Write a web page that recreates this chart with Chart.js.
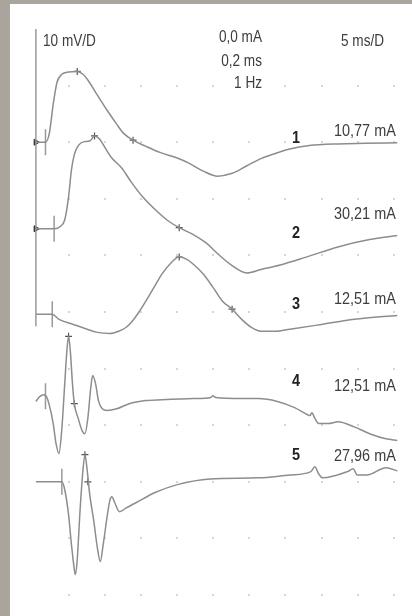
<!DOCTYPE html>
<html>
<head>
<meta charset="utf-8">
<script src="https://cdn.jsdelivr.net/npm/chart.js@4.4.0/dist/chart.umd.min.js"></script>
<style>
  html, body { margin: 0; padding: 0; background: #a9a59d; }
  #panel { position: absolute; left: 10px; top: 4px; width: 402px; height: 612px; background: #fff; }
</style>
</head>
<body>
<div id="panel"><canvas id="emg" width="402" height="612"></canvas></div>
<script>
// Escalas del registro: 5 ms/D en x, 10 mV/D en y
const gridMs = [5, 10, 15, 20, 25, 30, 35, 40, 45, 50];
const gridMv = [-10, -20, -30, -40, -50, -60, -70, -80, -90, -100];

// Línea base de cada trazo (mV, 0 = borde superior)
const traceBase = [-20, -35.3, -50.4, -65.3, -80];

// Trazo 1
const t1 = [0.4, 1.73, 2.27, 2.8, 3.33, 4.0, 4.93, 6.13, 6.93, 7.6, 8.93, 10.27, 11.6, 12.53, 13.87, 15.6, 17.6, 20.0, 21.6, 23.6, 25.6, 27.6, 29.6, 31.6, 33.6, 35.6, 38.3, 42.3, 46.0, 50.53];
const a1 = [0, 0, 1.6, 6.7, 10.6, 12.0, 12.4, 12.5, 12.0, 11.0, 8.3, 5.65, 3.2, 1.6, 0.35, -0.7, -1.8, -2.8, -3.7, -5.1, -6.0, -5.5, -4.2, -2.9, -2.0, -1.2, -0.6, -0.3, -0.2, -0.1];
// Trazo 2
const t2 = [0.4, 2.93, 3.87, 4.4, 4.93, 5.33, 5.73, 6.27, 7.07, 7.87, 8.53, 9.2, 10.0, 10.93, 12.27, 13.6, 15.2, 16.93, 18.53, 20.27, 22.27, 24.0, 25.6, 27.6, 29.6, 31.6, 34.27, 37.87, 42.27, 46.67, 50.53];
const a2 = [0, 0, 0.5, 1.6, 5.65, 10.4, 13.1, 14.7, 15.4, 15.5, 16.4, 15.9, 14.3, 12.5, 10.8, 8.3, 5.65, 3.4, 1.6, 0.2, -1.06, -2.5, -4.4, -6.5, -7.8, -7.2, -6.4, -5.0, -3.2, -1.9, -1.2];
// Trazo 3
const t3 = [0.4, 2.67, 3.6, 5.6, 7.2, 8.93, 10.67, 11.87, 12.93, 13.87, 14.67, 15.87, 16.93, 17.87, 18.93, 20.27, 21.33, 22.27, 23.6, 24.93, 26.27, 27.6, 28.93, 30.27, 31.6, 33.6, 35.6, 40.0, 44.53, 50.53];
const a3 = [0, 0, -0.9, -1.8, -2.5, -3.2, -3.4, -3.0, -2.3, -1.06, 0.35, 2.8, 5.1, 7.1, 8.8, 10.1, 9.7, 8.8, 7.1, 4.8, 2.3, 0.9, -0.9, -2.3, -3.0, -3.0, -2.65, -1.8, -0.9, -0.2];
// Trazo 4
const t4 = [0.4, 0.93, 1.47, 1.87, 2.27, 2.8, 3.2, 3.6, 4.0, 4.4, 4.67, 4.93, 5.2, 5.47, 5.73, 6.27, 6.8, 7.2, 7.6, 8.0, 8.27, 8.67, 9.07, 9.6, 10.27, 11.6, 13.33, 15.6, 17.87, 22.27, 24.67, 24.93, 25.33, 28.93, 31.2, 33.87, 36.27, 38.0, 38.4, 38.67, 39.07, 39.6, 40.93, 42.27, 44.53, 46.67, 48.93, 50.53];
const a4 = [-0.5, 0.35, 0.7, 0.35, -1.2, -4.4, -8.0, -9.7, -5.3, 2.65, 8.0, 11.0, 8.0, 2.65, -0.9, -3.5, -5.65, -6.2, -3.5, 1.8, 4.1, 2.65, -0.35, -1.8, -2.1, -1.8, -0.9, -0.35, -0.2, 0, 0.2, 0.5, 0.2, 0, 0, -0.5, -1.6, -2.8, -3.0, -2.5, -3.5, -4.4, -4.4, -4.1, -5.0, -6.2, -7.1, -7.4];
// Trazo 5
const t5 = [0.4, 4.0, 4.4, 4.93, 5.33, 5.73, 5.87, 6.13, 6.53, 6.93, 7.2, 7.47, 7.87, 8.4, 8.93, 9.33, 9.73, 10.27, 10.67, 10.93, 11.33, 12.0, 12.93, 14.27, 16.93, 20.0, 24.53, 31.2, 35.6, 38.53, 39.07, 39.6, 40.13, 43.6, 44.4, 44.93, 46.27, 48.93, 50.53];
const a5 = [0, 0, -1.4, -5.8, -11.1, -15.5, -16.4, -13.8, -4.9, 2.1, 4.8, 2.5, -2.3, -6.7, -11.7, -14.1, -11.1, -6.2, -3.2, -2.65, -3.7, -5.3, -4.6, -3.7, -1.9, -0.5, 0.5, 0.7, 1.2, 1.8, 2.65, 1.4, 0.7, 1.8, 2.3, 1.2, 1.2, 2.5, 1.9];

const traceT = [t1, t2, t3, t4, t5];
const traceA = [a1, a2, a3, a4, a5];

// Marcas de latencia (+) sobre cada trazo
const plusT = [[6.13, 13.87], [8.53, 20.27], [20.27, 27.6], [4.93, 5.73], [7.2, 7.6]];
const plusA = [[12.5, 0.35], [16.4, 0.2], [10.1, 0.9], [11.0, -0.9], [4.8, 0]];
// Marca vertical del estímulo
const stimT = [1.73, 2.93, 2.67, 1.73, 4.0];
const stimA = [0, 0, 0, 0.4, 0];
// Flechas en el eje izquierdo (trazos 1 y 2)
const arrowT = [0.4, 0.4];
const arrowY = [traceBase[0], traceBase[1]];
// Eje vertical izquierdo
const axisT = [0.4, 0.4];
const axisY = [0.2, -52.5];

// Textos
const headerLeft = "10 mV/D";
const headerMid = ["0,0 mA", "0,2 ms", "1 Hz"];
const headerRight = "5 ms/D";
const traceNums = ["1", "2", "3", "4", "5"];
const traceCurrents = ["10,77 mA", "30,21 mA", "12,51 mA", "12,51 mA", "27,96 mA"];

const traceColor = "#8d8d8d";
const markColor = "#555";
const textColor = "#3e3e3e";

const datasets = [];
datasets.push({
  data: axisT.map((t, i) => ({ x: t, y: axisY[i] })),
  borderColor: "#9a9a9a", borderWidth: 1.5, pointRadius: 0
});
traceT.forEach((ts, i) => {
  datasets.push({
    data: ts.map((t, j) => ({ x: t, y: traceBase[i] + traceA[i][j] })),
    borderColor: traceColor, borderWidth: 1.5, pointRadius: 0,
    cubicInterpolationMode: "monotone"
  });
  datasets.push({
    type: "scatter",
    data: plusT[i].map((t, j) => ({ x: t, y: traceBase[i] + plusA[i][j] })),
    pointStyle: "cross", pointRadius: 3.5, borderColor: markColor, borderWidth: 1.2
  });
  datasets.push({
    type: "scatter",
    data: [{ x: stimT[i], y: traceBase[i] + stimA[i] }],
    pointStyle: "line", rotation: 90, pointRadius: 13, borderColor: "#999", borderWidth: 1.5
  });
});
datasets.push({
  type: "scatter",
  data: arrowT.map((t, i) => ({ x: t, y: arrowY[i] })),
  pointStyle: "triangle", rotation: 90, pointRadius: 3.5,
  backgroundColor: "#333", borderColor: "#333", borderWidth: 1
});

const gridDots = {
  id: "gridDots",
  beforeDatasetsDraw(chart) {
    const { ctx, scales: { x, y } } = chart;
    ctx.save();
    ctx.fillStyle = "#d6d6d6";
    gridMs.forEach(t => {
      gridMv.forEach(v => {
        ctx.fillRect(Math.round(x.getPixelForValue(t)) - 1, Math.round(y.getPixelForValue(v)) - 1, 2, 2);
      });
    });
    ctx.restore();
  }
};

function txt(ctx, s, px, py, align, size, weight, color, sx) {
  ctx.save();
  ctx.translate(px, py);
  ctx.scale(sx, 1);
  ctx.font = weight + " " + size + "px 'Liberation Sans', Arial, sans-serif";
  ctx.textAlign = align;
  ctx.textBaseline = "middle";
  ctx.fillStyle = color;
  ctx.fillText(s, 0, 0);
  ctx.restore();
}

const labels = {
  id: "labels",
  afterDatasetsDraw(chart) {
    const ctx = chart.ctx;
    txt(ctx, headerLeft, 33, 37, "left", 17, "normal", textColor, 0.8);
    txt(ctx, headerMid[0], 252, 33, "right", 17, "normal", textColor, 0.8);
    txt(ctx, headerMid[1], 252, 57, "right", 17, "normal", textColor, 0.8);
    txt(ctx, headerMid[2], 252, 79, "right", 17, "normal", textColor, 0.8);
    txt(ctx, headerRight, 331, 37, "left", 17, "normal", textColor, 0.8);
    const numY = [134, 229, 300, 377, 451];
    const curY = [127, 210, 295, 382, 452];
    traceNums.forEach((n, i) => {
      txt(ctx, n, 286, numY[i], "center", 17, "bold", "#222", 0.85);
      txt(ctx, traceCurrents[i], 324, curY[i], "left", 17, "normal", textColor, 0.85);
    });
  }
};

new Chart(document.getElementById("emg"), {
  type: "line",
  data: { datasets },
  options: {
    responsive: false,
    animation: false,
    devicePixelRatio: 1,
    layout: { padding: { left: 23, right: 0, top: 25, bottom: 21 } },
    scales: {
      x: { type: "linear", min: 0, max: 50.53, display: false },
      y: { min: -100, max: 0, display: false }
    },
    plugins: { legend: { display: false }, tooltip: { enabled: false } },
    elements: { line: { fill: false } }
  },
  plugins: [gridDots, labels]
});
</script>
</body>
</html>
